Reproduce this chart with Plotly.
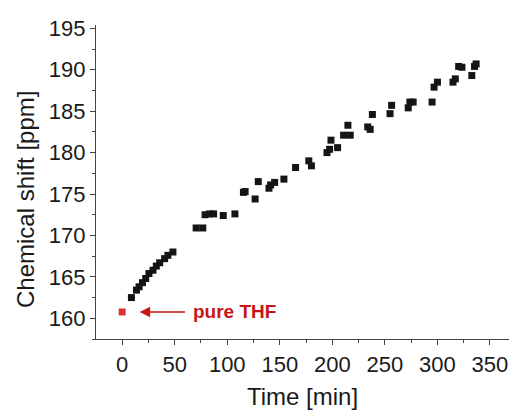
import plotly.graph_objects as go

time_min = [8.8, 13.6, 16.1, 19.3, 22.4, 25.5, 29.3, 32.5, 35.7, 40.4, 43.5, 48.3,
            70.4, 76.7, 78.9, 83.0, 87.0, 96.2, 107.3, 115.4, 117.0, 126.5, 129.5,
            139.7, 141.3, 145.1, 153.9, 165.0, 177.6, 180.1, 194.9, 197.4, 198.7,
            205.0, 210.7, 214.8, 217.0, 233.7, 236.0, 238.1, 254.9, 256.4, 272.2,
            273.8, 276.9, 294.9, 296.8, 300.0, 314.8, 317.0, 320.2, 323.3, 332.7,
            335.3, 336.8]
shift_ppm = [162.5, 163.4, 163.8, 164.3, 164.8, 165.4, 165.8, 166.3, 166.7, 167.2, 167.6, 168.0,
             170.9, 170.9, 172.5, 172.6, 172.6, 172.4, 172.6, 175.2, 175.3, 174.4, 176.5,
             175.7, 176.1, 176.4, 176.8, 178.2, 179.0, 178.4, 180.0, 180.4, 181.5,
             180.6, 182.1, 183.3, 182.1, 183.1, 182.8, 184.6, 184.7, 185.7, 185.4,
             186.1, 186.1, 186.1, 187.9, 188.5, 188.5, 188.9, 190.4, 190.3, 189.3,
             190.4, 190.7]

thf_time = [0.0]
thf_shift = [160.76]

x_ticks = [0, 50, 100, 150, 200, 250, 300, 350]
y_ticks = [160, 165, 170, 175, 180, 185, 190, 195]

FONT = "Liberation Sans, Arial, sans-serif"
TXT = "#1a1a1a"
RED = "#c81414"

fig = go.Figure()
fig.add_trace(go.Scatter(x=time_min, y=shift_ppm, mode="markers",
                         marker=dict(symbol="square", size=7, color="#151515",
                                     line=dict(width=0)),
                         showlegend=False))
fig.add_trace(go.Scatter(x=thf_time, y=thf_shift, mode="markers",
                         marker=dict(symbol="square", size=7, color="#e03030",
                                     line=dict(width=0)),
                         showlegend=False))

fig.add_annotation(x=16.7, y=160.76, ax=61.2, ay=160.76, axref="x", ayref="y",
                   xref="x", yref="y", text="", showarrow=True,
                   arrowhead=2, arrowsize=1.6, arrowwidth=1.3, arrowcolor=RED)
fig.add_annotation(x=65.8, y=160.76, xref="x", yref="y", text="<b>pure THF</b>",
                   showarrow=False, xanchor="left", yanchor="middle",
                   font=dict(family=FONT, size=19, color=RED))
fig.add_annotation(xref="paper", yref="paper", x=(25 - 96) / 413, y=(339 - 200) / 314,
                   text="Chemical shift [ppm]", textangle=-90, showarrow=False,
                   xanchor="center", yanchor="middle",
                   font=dict(family=FONT, size=24, color=TXT))

fig.update_xaxes(range=[-24.9, 368.1], tickvals=x_ticks, ticks="outside", ticklen=5,
                 tickwidth=1.2, tickcolor="#444", showline=True, linecolor="#444",
                 linewidth=1.2, showgrid=False, zeroline=False, mirror=False,
                 automargin=False, ticklabeloverflow="allow",
                 minor=dict(dtick=25, tick0=0, ticks="outside", ticklen=3, tickcolor="#444",
                            tickwidth=1, showgrid=False),
                 tickfont=dict(family=FONT, size=22, color=TXT),
                 title=dict(text="Time [min]", font=dict(family=FONT, size=24, color=TXT),
                            standoff=14))
fig.update_yaxes(range=[157.5, 195.4], tickvals=y_ticks, ticks="outside", ticklen=5,
                 tickwidth=1.2, tickcolor="#444", showline=True, linecolor="#444",
                 linewidth=1.2, showgrid=False, zeroline=False, mirror=False,
                 automargin=False,
                 minor=dict(dtick=2.5, tick0=0, ticks="outside", ticklen=3, tickcolor="#444",
                            tickwidth=1, showgrid=False),
                 tickfont=dict(family=FONT, size=22, color=TXT))

fig.update_layout(width=509, height=410, margin=dict(l=96, r=0, t=25, b=71),
                  plot_bgcolor="white", paper_bgcolor="white")
fig.write_html("out.html")
